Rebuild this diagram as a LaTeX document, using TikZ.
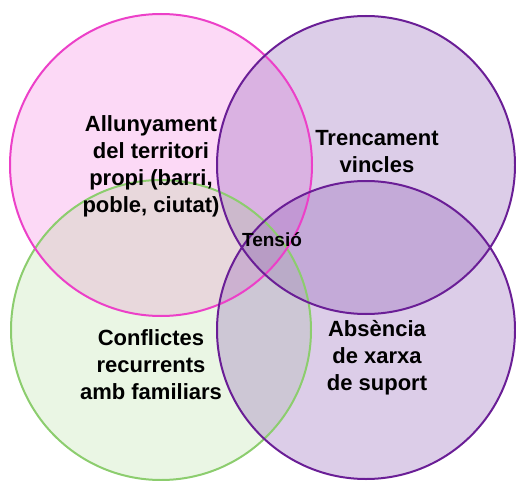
\documentclass[tikz,border=0pt]{standalone}
\usepackage{fontspec}
\setmainfont{Liberation Sans}
\definecolor{pinkline}{RGB}{236,64,200}
\definecolor{pinkfill}{RGB}{245,130,225}
\definecolor{violetline}{RGB}{106,30,150}
\definecolor{violetfill}{RGB}{140,90,180}
\definecolor{greenline}{RGB}{140,205,110}
\definecolor{greenfill}{RGB}{150,210,120}
\tikzset{
  label text/.style = {align=center, font=\bfseries\fontsize{22}{27}\selectfont, inner sep=0pt}
}
\begin{document}
\begin{tikzpicture}[x=1pt,y=-1pt,line width=2pt]
  \useasboundingbox (0,0) rectangle (516,481);

  % Fill the four sets
  \fill [pinkfill,fill opacity=0.3] (161,165) circle (151);
  \fill [violetfill,fill opacity=0.3] (366,165) circle (149);
  \fill [greenfill,fill opacity=0.2] (161,330) circle (150);
  \fill [violetfill,fill opacity=0.3] (366,330) circle (149);

  % Outline the four sets
  \draw [greenline] (161,330) circle (150);
  \draw [pinkline] (161,165) circle (151);
  \draw [violetline] (366,165) circle (149);
  \draw [violetline] (366,330) circle (149);

  % Label each set and the centre
  \node [label text] (allunyament) at (151,166)
    {Allunyament\\del territori\\propi (barri,\\poble, ciutat)};
  \node [label text] (trencament) at (377,152) {Trencament\\vincles};
  \node [label text] (conflictes) at (151,365)
    {Conflictes\\recurrents\\amb familiars};
  \node [label text] (absencia) at (377,358) {Absència\\de xarxa\\de suport};
  \node [label text,font=\bfseries\fontsize{19}{22}\selectfont] (tensio) at (272,240) {Tensió};

\end{tikzpicture}
\end{document}
